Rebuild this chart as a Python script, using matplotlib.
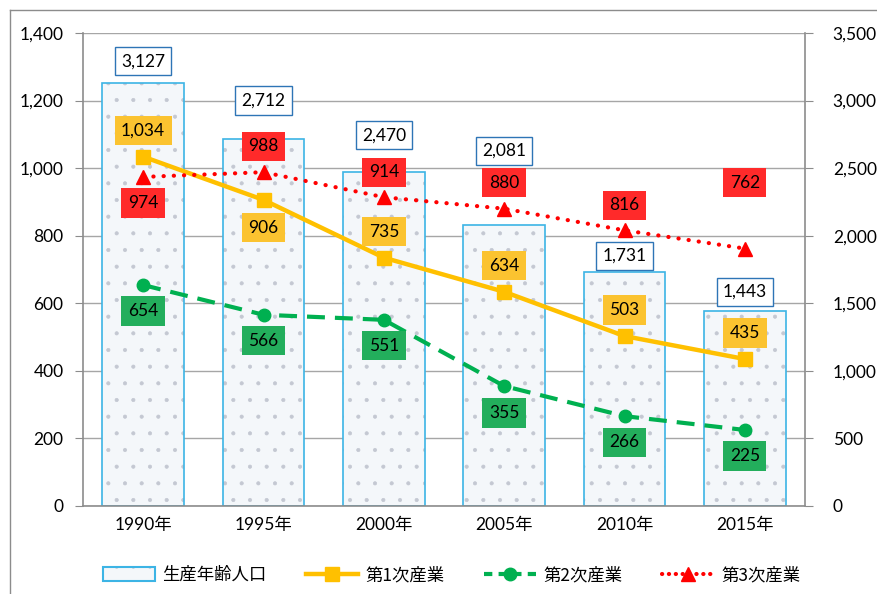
import matplotlib
matplotlib.use("Agg")
import matplotlib.pyplot as plt
from matplotlib.patches import Patch
from matplotlib.lines import Line2D
from matplotlib.legend_handler import HandlerTuple

plt.rcParams['font.family'] = ['Lato', 'Noto Sans CJK JP', 'DejaVu Sans']
plt.rcParams['hatch.linewidth'] = 0.5

years = ['1990年', '1995年', '2000年', '2005年', '2010年', '2015年']
working_age = [3127, 2712, 2470, 2081, 1731, 1443]
primary = [1034, 906, 735, 634, 503, 435]
secondary = [654, 566, 551, 355, 266, 225]
tertiary = [974, 988, 914, 880, 816, 762]

left_ticks = [0, 200, 400, 600, 800, 1000, 1200, 1400]
right_ticks = [0, 500, 1000, 1500, 2000, 2500, 3000, 3500]

# label offsets in pixels (negative = above)
bar_lbl_off = [22, 39, 37, 74, 16, 19]
p_off = [-26, 28, -26, -26, -26, -26]
s_off = [26, 26, 26, 27, 26, 26]
t_off = [26, -26, -25, -26, -25, -66]

W, H = 877, 594
fig = plt.figure(figsize=(W / 100, H / 100), dpi=100)
fig.patch.set_facecolor('white')

# outer border (left & top)
fig.add_artist(Line2D([10 / W, 10 / W], [0, 1 - 10 / H], color='#8C8C8C', lw=1.0))
fig.add_artist(Line2D([10 / W, 1], [1 - 10 / H, 1 - 10 / H], color='#8C8C8C', lw=1.0))

x0, x1, yb, yt = 83 / W, 805 / W, 1 - 506 / H, 1 - 33 / H
ax2 = fig.add_axes([x0, yb, x1 - x0, yt - yb])
ax = fig.add_axes([x0, yb, x1 - x0, yt - yb], sharex=ax2)
ax.set_zorder(2)
ax2.set_zorder(1)
ax.patch.set_visible(False)

xs = list(range(len(years)))
grid_c = '#A6A6A6'
spine_c = '#8C8C8C'
fs = 12.5

bar_face = '#F4F7FA'
dot_c = '#C4C8D2'
bar_edge = '#3CB4E5'

# bars on right axis
ax2.bar(xs, working_age, width=0.68, color=bar_face, edgecolor=dot_c,
        linewidth=0, hatch='.', zorder=2)
ax2.bar(xs, working_age, width=0.68, color='none', edgecolor=bar_edge,
        linewidth=1.2, zorder=3)
ax2.set_ylim(0, 3500)
ax2.set_yticks(right_ticks)
ax2.set_yticklabels([f'{v:,}' for v in right_ticks])
ax2.yaxis.tick_right()
ax2.grid(axis='y', color=grid_c, lw=1.0, zorder=0)
ax2.set_axisbelow(True)
ax2.tick_params(axis='y', length=6, color=spine_c, labelsize=fs, pad=14)
ax2.tick_params(axis='x', length=0, labelbottom=False)
for s in ['top', 'left', 'bottom']:
    ax2.spines[s].set_visible(False)
ax2.spines['right'].set_color(spine_c)
ax2.spines['right'].set_linewidth(1.2)

px2pt = 0.72
for xi, v, off in zip(xs, working_age, bar_lbl_off):
    ax2.annotate(f'{v:,}', (xi, v), xytext=(0, off * px2pt), textcoords='offset points',
                 ha='center', va='center', fontsize=fs, zorder=5,
                 bbox=dict(boxstyle='square,pad=0.35', fc='white', ec='#2E75B6', lw=1.0))

# lines on left axis
c1, c2, c3 = '#FFC000', '#00B050', '#FF0000'
ax.plot(xs, primary, color=c1, lw=3.2, marker='s', ms=10, zorder=4)
ax.plot(xs, secondary, color=c2, lw=3.0, ls=(0, (4.3, 2.4)), marker='o', ms=9, zorder=4)
ax.plot(xs, tertiary, color=c3, lw=3.0, ls=(0, (0.05, 2.4)), dash_capstyle='round',
        marker='^', ms=10, zorder=4)

def lab(vals, offs, fc):
    for xi, v, off in zip(xs, vals, offs):
        ax.annotate(f'{v:,}', (xi, v), xytext=(0, -off * px2pt), textcoords='offset points',
                    ha='center', va='center', fontsize=fs, zorder=6,
                    bbox=dict(boxstyle='square,pad=0.38', fc=fc, ec='none'))

lab(primary, p_off, '#FBC330')
lab(secondary, s_off, '#23AE5C')
lab(tertiary, t_off, '#FF2A2A')

ax.set_ylim(0, 1400)
ax.set_xlim(-0.5, len(years) - 0.5)
ax.set_yticks(left_ticks)
ax.set_yticklabels([f'{v:,}' for v in left_ticks])
ax.set_xticks(xs)
ax.set_xticklabels(years)
ax.tick_params(axis='y', length=6, color=spine_c, labelsize=fs, pad=8)
ax.tick_params(axis='x', length=0, labelsize=fs, pad=8)
for s in ['top', 'right']:
    ax.spines[s].set_visible(False)
for s in ['left', 'bottom']:
    ax.spines[s].set_color(spine_c)
    ax.spines[s].set_linewidth(1.2)

# legend
h_bar = (Patch(fc=bar_face, ec=dot_c, lw=0, hatch='.'),
         Patch(fc='none', ec=bar_edge, lw=1.5))
h1 = Line2D([], [], color=c1, lw=3.2, marker='s', ms=10)
h2 = Line2D([], [], color=c2, lw=3.0, ls=(0, (2.0, 1.5)), marker='o', ms=9)
h3 = Line2D([], [], color=c3, lw=3.0, ls=(0, (0.05, 1.6)), dash_capstyle='round', marker='^', ms=10)
fig.legend([h_bar, h1, h2, h3], ['生産年齢人口', '第1次産業', '第2次産業', '第3次産業'],
           handler_map={tuple: HandlerTuple(ndivide=1, pad=0)},
           loc='center', bbox_to_anchor=(0.515, 1 - 575 / H), ncol=4, frameon=False,
           prop={'family': ['Noto Sans CJK JP'], 'size': fs},
           handlelength=3.0, handleheight=0.8, columnspacing=2.3, handletextpad=0.4)

fig.savefig('out.png', dpi=100, facecolor='white')
